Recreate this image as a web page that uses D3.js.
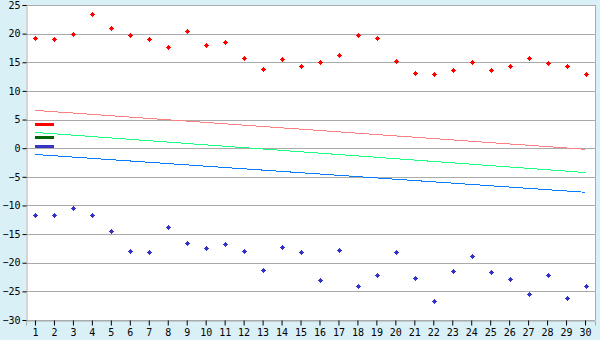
<!DOCTYPE html>
<html>
<head>
<meta charset="utf-8">
<script src="https://cdn.jsdelivr.net/npm/d3@7"></script>
<style>
  body { margin: 0; background: #d9f0f7; }
  svg { display: block; }
  text { font-family: "DejaVu Sans Mono", monospace; font-size: 10px; fill: #000; }
</style>
</head>
<body>
<div id="chart"></div>
<script>
// categories 1..30
var categories = d3.range(1, 31);
var yTicks = [25, 20, 15, 10, 5, 0, -5, -10, -15, -20, -25, -30];

// scatter series
var redPoints = [19.3, 19.0, 20.0, 23.5, 20.9, 19.7, 19.0, 17.7, 20.5, 18.1,
                 18.6, 15.7, 13.9, 15.5, 14.4, 15.0, 16.2, 19.8, 19.3, 15.3,
                 13.2, 12.9, 13.6, 15.0, 13.6, 14.4, 15.8, 14.8, 14.3, 13.0];
var bluePoints = [-11.7, -11.7, -10.5, -11.7, -14.4, -17.9, -18.2, -13.8, -16.6, -17.5,
                  -16.8, -17.9, -21.3, -17.3, -18.2, -23.1, -17.7, -24.0, -22.2, -18.2,
                  -22.6, -26.6, -21.5, -18.9, -21.7, -22.8, -25.5, -22.2, -26.1, -24.0];

// trend lines: [category, value] end points
var redTrend = [[1, 6.6], [30, -0.2]];
var greenTrend = [[1, 2.75], [30, -4.25]];
var blueTrend = [[1, -1.1], [30, -7.7]];

// short thick segments near the left
var redBar = [[1, 4.1], [2, 4.1]];
var greenBar = [[1, 1.8], [2, 1.8]];
var blueBar = [[1, 0.25], [2, 0.25]];

var W = 600, H = 340;
var margin = {top: 5, right: 5, bottom: 20, left: 26};

var svg = d3.select("#chart").append("svg")
  .attr("width", W).attr("height", H);

// plot background
svg.append("rect")
  .attr("x", margin.left).attr("y", margin.top)
  .attr("width", W - margin.left - margin.right)
  .attr("height", H - margin.top - margin.bottom)
  .attr("fill", "#fff");

var x = d3.scaleBand()
  .domain(categories)
  .range([margin.left, W - margin.right]);
var xc = function(c) { return x(c) + x.bandwidth() / 2; };

var y = d3.scaleLinear()
  .domain([-30, 25])
  .range([H - margin.bottom, margin.top]);

// grid lines
svg.append("g")
  .selectAll("line")
  .data(yTicks)
  .enter().append("line")
    .attr("x1", margin.left).attr("x2", W - margin.right)
    .attr("y1", function(d) { return Math.round(y(d)) + 0.5; })
    .attr("y2", function(d) { return Math.round(y(d)) + 0.5; })
    .attr("stroke", "#aaa");

// right border
svg.append("line")
  .attr("x1", W - margin.right + 0.5).attr("x2", W - margin.right + 0.5)
  .attr("y1", margin.top).attr("y2", H - margin.bottom)
  .attr("stroke", "#aaa");

// axes
var yAxis = svg.append("g")
  .attr("transform", "translate(" + (margin.left + 0.5) + ",0)")
  .call(d3.axisLeft(y).tickValues(yTicks).tickSize(4).tickPadding(2)
        .tickFormat(function(d) { return d < 0 ? "\u2212" + (-d) : d; }));
yAxis.select(".domain").attr("stroke", "#aaa");
yAxis.selectAll(".tick line").attr("stroke", "#000");
yAxis.selectAll("text").attr("font-family", null);

var xAxis = svg.append("g")
  .attr("transform", "translate(0," + (H - margin.bottom + 0.5) + ")")
  .call(d3.axisBottom(x).tickSize(5).tickPadding(3));
xAxis.select(".domain").attr("stroke", "#aaa");
xAxis.selectAll(".tick line").attr("stroke", "#000");
xAxis.selectAll("text").attr("font-family", null);

// trend lines, drawn crisp to keep the stepped look
var line = d3.line()
  .x(function(d) { return xc(d[0]); })
  .y(function(d) { return y(d[1]); });

var trends = [
  {data: redTrend, color: "#ff8080", width: 1},
  {data: greenTrend, color: "#1aff80", width: 1},
  {data: blueTrend, color: "#0a7cff", width: 1},
  {data: redBar, color: "#ff0000", width: 3},
  {data: greenBar, color: "#006400", width: 3},
  {data: blueBar, color: "#3535c0", width: 3}
];
svg.append("g")
  .selectAll("path")
  .data(trends)
  .enter().append("path")
    .attr("d", function(d) { return line(d.data); })
    .attr("fill", "none")
    .attr("stroke", function(d) { return d.color; })
    .attr("stroke-width", function(d) { return d.width; })
    .attr("shape-rendering", "crispEdges");

// small pixel diamond / plus markers
var marker = "M-0.5,-2.5H0.5V-1.5H1.5V-0.5H2.5V0.5H1.5V1.5H0.5V2.5H-0.5V1.5H-1.5V0.5H-2.5V-0.5H-1.5V-1.5H-0.5Z";

function drawPoints(values, color) {
  svg.append("g")
    .selectAll("path")
    .data(values)
    .enter().append("path")
      .attr("d", marker)
      .attr("fill", color)
      .attr("shape-rendering", "crispEdges")
      .attr("transform", function(d, i) {
        return "translate(" + (Math.round(xc(categories[i])) + 0.5) + "," + (Math.round(y(d)) + 0.5) + ")";
      });
}
drawPoints(redPoints, "#ff0000");
drawPoints(bluePoints, "#3333cc");
</script>
</body>
</html>
